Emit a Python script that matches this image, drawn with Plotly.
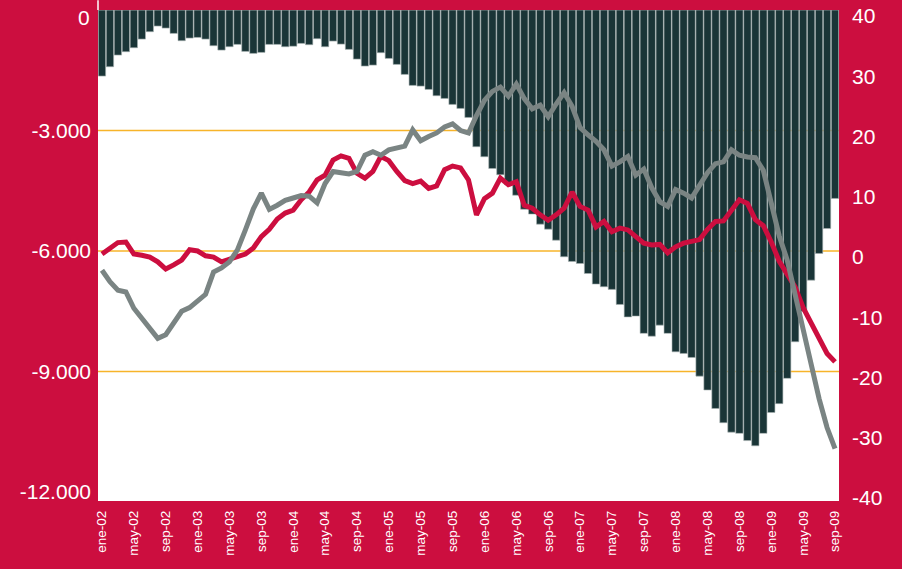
import plotly.graph_objects as go

meses = ["ene", "feb", "mar", "abr", "may", "jun", "jul", "ago", "sep", "oct", "nov", "dic"]
categorias = [f"{m}-{a:02d}" for a in range(2, 10) for m in meses][:93]

barras = [-1643, -1411, -1120, -1037, -938, -722, -539, -398, -448, -581,
          -763, -697, -681, -722, -888, -996, -913, -855, -1029, -1079,
          -1054, -855, -855, -913, -900, -830, -863, -714, -913, -772,
          -847, -979, -1220, -1394, -1370, -1062, -1204, -1353, -1602, -1876,
          -1893, -1976, -2133, -2200, -2349, -2449, -2673, -3403, -3652, -3945,
          -4100, -4350, -4610, -4960, -5080, -5330, -5455, -5730, -6143, -6260,
          -6310, -6560, -6823, -6890, -6955, -7330, -7640, -7620, -8050, -8120,
          -7845, -8050, -8510, -8550, -8650, -9115, -9460, -9920, -10275, -10510,
          -10540, -10720, -10850, -10540, -10020, -9800, -9170, -8260, -7500, -6725,
          -6060, -5440, -4690]

linea_roja = [-0.5, 0.5, 1.4, 1.5, -0.5, -0.7, -1.0, -1.8, -3.0, -2.3,
              -1.5, 0.2, 0.0, -0.8, -1.0, -1.8, -1.3, -0.8, -0.5, 0.5,
              2.4, 3.6, 5.3, 6.3, 6.8, 8.5, 9.8, 11.8, 12.6, 15.1,
              15.8, 15.4, 12.9, 12.1, 13.2, 15.7, 15.0, 13.2, 11.7, 11.2,
              11.6, 10.4, 10.8, 13.5, 14.1, 13.8, 11.8, 6.0, 8.7, 9.6,
              12.1, 11.0, 11.5, 7.6, 7.1, 6.0, 5.1, 6.0, 7.1, 9.8,
              7.4, 6.8, 4.0, 4.9, 3.2, 3.8, 3.5, 2.4, 1.3, 1.0,
              1.1, -0.3, 0.7, 1.3, 1.7, 1.9, 3.6, 4.9, 5.0, 6.7,
              8.5, 7.9, 5.2, 4.2, 1.5, -1.7, -3.7, -6.0, -9.4, -11.9,
              -14.1, -17.0, -18.4]

linea_gris = [-3.2, -5.1, -6.5, -6.8, -9.5, -11.2, -12.6, -14.5, -13.9, -11.8,
              -10.0, -9.4, -8.4, -7.2, -3.5, -2.8, -1.8, 0.2, 3.5, 7.0,
              9.6, 6.9, 7.6, 8.4, 8.8, 9.2, 9.1, 8.0, 11.2, 13.2,
              13.0, 12.8, 13.2, 15.9, 16.5, 15.9, 16.8, 17.2, 17.4, 20.1,
              18.3, 19.0, 19.6, 20.6, 21.1, 20.0, 19.6, 22.5, 25.0, 26.5,
              27.2, 25.7, 27.7, 25.3, 23.6, 24.2, 22.3, 24.4, 26.3, 24.0,
              20.5, 19.3, 18.2, 16.8, 14.1, 14.8, 15.7, 12.6, 13.6, 10.5,
              8.2, 7.4, 10.2, 9.6, 8.8, 10.9, 13.0, 14.5, 14.8, 16.8,
              15.9, 15.6, 15.5, 13.4, 8.0, 2.5, -1.5, -7.3, -13.5, -19.3,
              -24.5, -29.3, -32.8]

ticks_izq = [-3000, -6000, -9000, -12000]
textos_izq = ["-3.000", "-6.000", "-9.000", "-12.000"]
texto_cero = "0"
ticks_der = [40, 30, 20, 10, 0, -10, -20, -30, -40]
lineas_guia = [-3000, -6000, -9000]

ROJO_FONDO = "#CC0E3F"
ROJO = "#CC0E3F"
GRIS = "#7A8483"
VERDE = "#1A3537"
NARANJA = "#F7B42A"
FUENTE = "Liberation Sans, Arial, Helvetica, sans-serif"

fig = go.Figure()
fig.add_trace(go.Bar(x=categorias, y=barras, marker=dict(color=VERDE, line=dict(color="#A9B3B3", width=0.6)),
                     yaxis="y", showlegend=False, hoverinfo="skip"))
fig.add_trace(go.Scatter(x=categorias, y=linea_roja, mode="lines", line=dict(color=ROJO, width=5),
                         yaxis="y2", showlegend=False, hoverinfo="skip"))
fig.add_trace(go.Scatter(x=categorias, y=linea_gris, mode="lines", line=dict(color=GRIS, width=5),
                         yaxis="y2", showlegend=False, hoverinfo="skip"))

for v in lineas_guia:
    fig.add_shape(type="line", xref="paper", x0=0, x1=1, yref="y", y0=v, y1=v,
                  line=dict(color=NARANJA, width=1.6), layer="below")

fig.add_shape(type="line", xref="paper", x0=0, x1=0, yref="paper", y0=1, y1=1.02,
              line=dict(color="white", width=1.5))

fig.add_annotation(text=texto_cero, xref="paper", x=0, xanchor="right", xshift=-6,
                   yref="paper", y=1 - 7.5 / 491, yanchor="middle", showarrow=False,
                   font=dict(size=21, color="white", family=FUENTE))

fig.update_layout(
    width=902, height=569,
    margin=dict(l=98, r=63, t=10, b=68, autoexpand=False),
    paper_bgcolor=ROJO_FONDO, plot_bgcolor="white",
    bargap=0.08,
    font=dict(family=FUENTE, color="white"),
    xaxis=dict(type="category", range=[-0.5, 92.5], tickmode="array",
               tickvals=categorias[::4], ticktext=categorias[::4], tickangle=-90,
               tickfont=dict(size=13.5, color="white"), showgrid=False, ticks="",
               showline=False, zeroline=False, ticklabelstandoff=6, automargin=False),
    yaxis=dict(range=[-12224, 2], tickmode="array", tickvals=ticks_izq, ticktext=textos_izq,
               tickfont=dict(size=21, color="white"), showgrid=False, zeroline=False,
               ticks="", showline=False, ticklabelstandoff=6, automargin=False,
               ticklabeloverflow="allow"),
    yaxis2=dict(range=[-41.5, 40.01], overlaying="y", side="right", tickmode="array",
                tickvals=ticks_der, ticktext=[str(t) for t in ticks_der],
                tickfont=dict(size=21, color="white"), showgrid=False, zeroline=False,
                ticks="", showline=False, ticklabelstandoff=12, ticklabelshift=6,
                automargin=False, ticklabeloverflow="allow"),
)

fig.write_html("out.html", config={"displayModeBar": False},
               post_script="document.body.style.margin='0';document.body.style.padding='0';")
